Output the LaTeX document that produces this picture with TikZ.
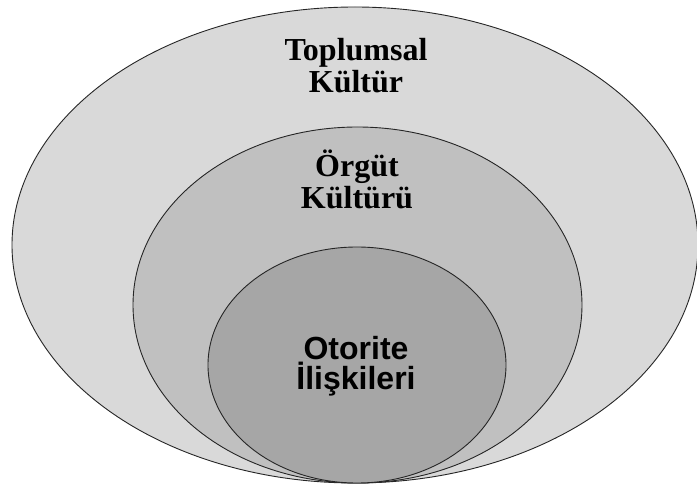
\documentclass[tikz,border=0pt]{standalone}
\usepackage{fontspec}
\setmainfont{Liberation Serif}
\setsansfont{Liberation Sans}
\definecolor{outerc}{HTML}{D9D9D9}
\definecolor{midc}{HTML}{C0C0C0}
\definecolor{innerc}{HTML}{A6A6A6}
\begin{document}
\begin{tikzpicture}[x=1pt,y=-1pt,
  ring/.style={draw=black!85, line width=0.9pt},
  serlab/.style={font=\fontsize{32}{32}\selectfont\bfseries, align=center, inner sep=0pt},
  sanslab/.style={font=\fontsize{32}{30}\selectfont\sffamily\bfseries, align=center, inner sep=0pt}]
\useasboundingbox (0,0) rectangle (697,486);
\fill[white] (0,0) rectangle (697,486);
\draw[ring, fill=outerc] (355,245) ellipse [x radius=343, y radius=238];
\draw[ring, fill=midc] (357.5,305) ellipse [x radius=224.5, y radius=178];
\draw[ring, fill=innerc] (357,365) ellipse [x radius=149, y radius=118];
\node[serlab] (toplumsal) at (356,66) {Toplumsal\\Kültür};
\node[serlab] (orgut) at (357,179) {Örgüt\\Kültürü};
\node[sanslab] (otorite) at (356,366) {Otorite\\İlişkileri};
\end{tikzpicture}
\end{document}
